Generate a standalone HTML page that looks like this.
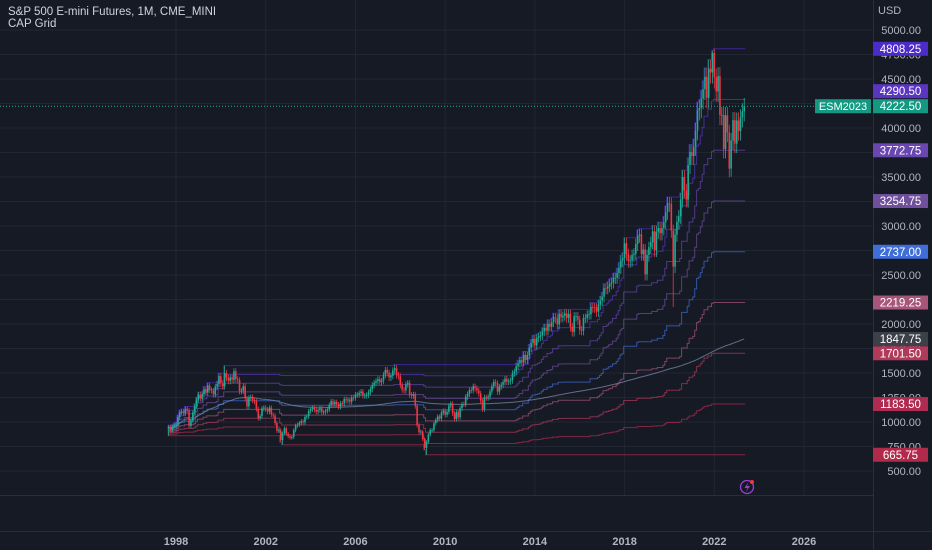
<!DOCTYPE html>
<html><head><meta charset="utf-8">
<style>
html,body{margin:0;padding:0;background:#161a25;}
#wrap{position:relative;width:932px;height:550px;overflow:hidden;background:#161a25;font-family:"Liberation Sans",sans-serif;}
svg{position:absolute;left:0;top:0;}
.t{font-family:"Liberation Sans",sans-serif;}
</style></head>
<body>
<div id="wrap">
<svg id="c" width="932" height="550"></svg>
</div>
<script>
const closes = [
950,915,955,970,
980,1050,1100,1110,1090,1135,1120,960,1017,1098,1163,1229,
1280,1238,1286,1335,1302,1373,1329,1320,1282,1362,1389,1469,
1394,1366,1499,1452,1421,1455,1431,1518,1437,1429,1315,1320,
1366,1240,1160,1249,1256,1224,1211,1134,1041,1060,1139,1148,
1130,1107,1147,1076,1067,990,912,916,815,886,936,880,
856,841,848,917,964,975,990,1008,996,1051,1058,1112,
1131,1145,1126,1107,1121,1141,1102,1104,1115,1130,1174,1212,
1181,1204,1181,1157,1192,1191,1234,1220,1229,1207,1249,1248,
1280,1281,1295,1311,1270,1270,1277,1304,1336,1378,1401,1418,
1438,1407,1421,1482,1531,1503,1455,1474,1527,1549,1481,1468,
1379,1331,1323,1386,1400,1280,1267,1283,1165,969,896,903,
826,735,798,873,919,919,987,1021,1057,1036,1096,1115,
1074,1104,1169,1187,1089,1031,1102,1049,1141,1183,1181,1258,
1286,1327,1326,1364,1345,1321,1292,1219,1131,1253,1247,1258,
1312,1366,1408,1398,1310,1362,1379,1407,1441,1412,1416,1426,
1498,1515,1569,1598,1631,1606,1686,1633,1682,1757,1806,1848,
1783,1859,1872,1884,1924,1960,1931,2003,1972,2018,2068,2059,
1995,2105,2068,2086,2107,2063,2104,1972,1920,2079,2080,2044,
1940,1932,2060,2065,2097,2099,2174,2171,2168,2126,2199,2239,
2279,2364,2363,2384,2412,2423,2470,2472,2519,2575,2648,2674,
2824,2714,2641,2648,2705,2718,2816,2902,2914,2712,2760,2507,
2704,2784,2834,2946,2752,2942,2980,2926,2977,3038,3141,3231,
3226,2954,2585,2912,3044,3100,3271,3500,3363,3270,3622,3756,
3714,3811,3973,4181,4204,4298,4395,4523,4308,4605,4567,4766,
4516,4374,4530,4132,4132,3785,4130,3955,3586,3872,4080,3840,
4077,3970,4109,4170,4222.5
];
const firstOpen = 935;
const highOverrides = {30:1575, 121:1586, 291:4790, 292:4808.25};
const lowOverrides = {0:860, 61:768, 138:665.75, 270:2174, 301:3502};
const priceTicks = [500,750,1000,1250,1500,1750,2000,2250,2500,2750,3000,3250,3500,3750,4000,4250,4500,4750,5000];
const yearTicks = [1998,2002,2006,2010,2014,2018,2022,2026];
const lastPrice = 4222.5;
const symbol = "ESM2023";

const NS="http://www.w3.org/2000/svg";
const svg=document.getElementById('c');
function yS(p){return 520-0.098*p;}
function xI(i){return 176+(i-4)*(22.43/12);}
function xY(yr){return 176+(yr-1998)*22.43;}
function mk(tag,attrs,parent){const e=document.createElementNS(NS,tag);for(const k in attrs)e.setAttribute(k,attrs[k]);(parent||svg).appendChild(e);return e;}

const grid=mk('g',{});


priceTicks.forEach(p=>{mk('line',{x1:0,x2:873,y1:yS(p),y2:yS(p),stroke:'#222633','stroke-width':1},grid);});
yearTicks.forEach(yr=>{mk('line',{x1:xY(yr),x2:xY(yr),y1:0,y2:495,stroke:'#222633','stroke-width':1},grid);});
mk('line',{x1:0,x2:873,y1:495.5,y2:495.5,stroke:'#2a2e39'},grid);
mk('line',{x1:0,x2:932,y1:531.5,y2:531.5,stroke:'#2a2e39'},grid);
mk('line',{x1:873.5,x2:873.5,y1:0,y2:550,stroke:'#2a2e39'},grid);

const n=closes.length;
const opens=[],highs=[],lows=[];
for(let i=0;i<n;i++){
  const o=i===0?firstOpen:closes[i-1];const c=closes[i];
  opens.push(o);
  highs.push(highOverrides[i]!==undefined?highOverrides[i]:Math.max(o,c)*1.02);
  lows.push(lowOverrides[i]!==undefined?lowOverrides[i]:Math.min(o,c)*0.975);
}

const levelColors=['#b22a4a','#b02b50','#b03a5a','#a8557a','#3f6ed8','#70509c','#6a46b0','#5a36c0','#4b2cc8'];
const capG=mk('g',{});


let rmax=-1e9,rmin=1e9;const runMax=[],runMin=[];
for(let i=0;i<n;i++){rmax=Math.max(rmax,highs[i]);rmin=Math.min(rmin,lows[i]);runMax.push(rmax);runMin.push(rmin);}
for(let k=0;k<=8;k++){
  let pts=[];
  for(let i=0;i<n;i++){const v=runMin[i]+k*(runMax[i]-runMin[i])/8;const y=yS(v).toFixed(1);pts.push((xI(i)-0.93).toFixed(1)+','+y);pts.push((xI(i)+0.93).toFixed(1)+','+y);}
  const pl=mk('polyline',{points:pts.join(' '),fill:'none',stroke:levelColors[k],'stroke-width':1,opacity:0.7},capG);
  
  
}
let s=0,mp=[];const means=[];
for(let i=0;i<n;i++){s+=closes[i];const m=s/(i+1);means.push(m);mp.push(xI(i).toFixed(1)+','+yS(m).toFixed(1));}
const ml=mk('polyline',{points:mp.join(' '),fill:'none',stroke:'#7d8aa8','stroke-width':1,opacity:0.75});



const cg=mk('g',{});


for(let i=0;i<n;i++){
  const up=closes[i]>=opens[i];const col=up?'#22ab94':'#f23645';
  const x=xI(i);
  mk('line',{x1:x,x2:x,y1:yS(highs[i]),y2:yS(lows[i]),stroke:col,'stroke-width':0.8},cg);
  const yt=yS(Math.max(opens[i],closes[i])),yb=yS(Math.min(opens[i],closes[i]));
  const r=mk('rect',{x:x-0.8,y:yt,width:1.6,height:Math.max(0.8,yb-yt),fill:col},cg);
  
  
}

const lp=mk('line',{x1:0,x2:873,y1:yS(lastPrice),y2:yS(lastPrice),stroke:'#22ab94','stroke-width':1,'stroke-dasharray':'1 2'});



mk('text',{x:878,y:14,fill:'#b2b5be','font-size':11,class:'t'}).textContent='USD';
priceTicks.forEach(p=>{const t=mk('text',{x:921,y:yS(p)+4,fill:'#b2b5be','font-size':11,'text-anchor':'end',class:'t'});t.textContent=p.toFixed(2);
});
yearTicks.forEach(yr=>{const t=mk('text',{x:xY(yr),y:545,fill:'#b2b5be','font-size':11,'font-weight':'bold','text-anchor':'middle',class:'t'});t.textContent=yr;
});

const lastY=yS(lastPrice);
function badge(v,col){
  let y=yS(v);
  if(Math.abs(y-lastY)<15){y = y<lastY ? lastY-15 : lastY+15;}
  const b=mk('rect',{x:873,y:y-7,width:55,height:14,fill:col});
  
  
  const rv=Math.round(v*4)/4;
  mk('text',{x:900.5,y:y+4,fill:'#ffffff','font-size':11.5,'text-anchor':'middle',class:'t'}).textContent=rv.toFixed(2);
}
for(let k=0;k<=8;k++){const last=n-1;badge(runMin[last]+k*(runMax[last]-runMin[last])/8,levelColors[k]);}
badge(means[n-1],'#3c4049');
const lb=mk('rect',{x:873,y:lastY-7,width:55,height:14,fill:'#139981'});


mk('text',{x:900.5,y:lastY+4,fill:'#fff','font-size':11.5,'text-anchor':'middle',class:'t'}).textContent=lastPrice.toFixed(2);
const sb=mk('rect',{x:815,y:lastY-7,width:56,height:14,fill:'#139981'});


mk('text',{x:843,y:lastY+4,fill:'#fff','font-size':11,'text-anchor':'middle',class:'t'}).textContent=symbol;

const t1=mk('text',{x:8,y:15,fill:'#d1d4dc','font-size':11.5,class:'t'});t1.textContent='S&P 500 E-mini Futures, 1M, CME_MINI';

const t2=mk('text',{x:8,y:27,fill:'#d1d4dc','font-size':11.5,class:'t'});t2.textContent='CAP Grid';


const ic=mk('g',{});


mk('circle',{cx:747,cy:487,r:6.5,fill:'none',stroke:'#9c3fd6','stroke-width':1.3},ic);
mk('path',{d:'M748.5 482 L744.5 488 L747.5 488 L745.8 492 L750 486 L747 486 Z',fill:'#9c3fd6'},ic);
mk('circle',{cx:752,cy:482,r:2,fill:'#f23645'},ic);
</script>
</body></html>
